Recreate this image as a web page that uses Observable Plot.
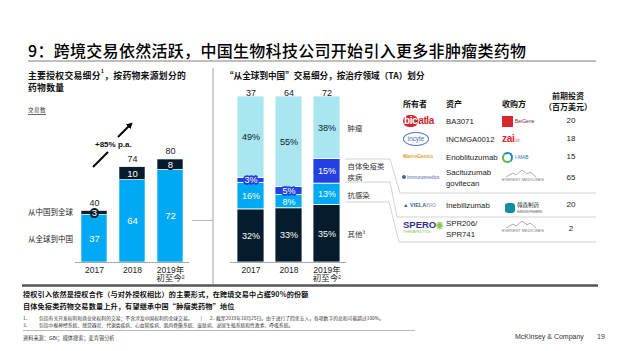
<!DOCTYPE html>
<html lang="zh-CN">
<head>
<meta charset="utf-8">
<script src="https://cdn.jsdelivr.net/npm/d3@7"></script>
<script src="https://cdn.jsdelivr.net/npm/@observablehq/plot@0.6"></script>
<style>
html,body{margin:0;padding:0;background:#fff;}
#page{position:relative;width:624px;height:351px;overflow:hidden;background:#fff;font-family:"Noto Sans CJK SC","Liberation Sans",sans-serif;color:#111;}
.t{position:absolute;white-space:nowrap;}
.lat{font-family:"Liberation Sans",Arial,sans-serif;}
#overlay{position:absolute;left:0;top:0;}
.chart{position:absolute;}
sup{font-size:60%;line-height:0;vertical-align:top;position:relative;top:1px;}
</style>
</head>
<body>
<div id="page">
<svg id="overlay" width="624" height="351">
  <defs>
    <marker id="ah" viewBox="0 0 10 10" refX="2" refY="5" markerWidth="3.2" markerHeight="3.2" orient="auto">
      <path d="M0,0 L10,5 L0,10 z" fill="#000"/>
    </marker>
  </defs>
  <line x1="28" y1="61" x2="596" y2="61" stroke="#7f7f7f" stroke-width="1"/>
  <line x1="213" y1="68" x2="213" y2="285" stroke="#8c8c8c" stroke-width="0.8"/>
  <line x1="192" y1="220.5" x2="213" y2="220.5" stroke="#a6a6a6" stroke-width="0.8"/>
  <path d="M345,159 H390 L400,193 H596" fill="none" stroke="#c8c8c8" stroke-width="0.8"/>
  <path d="M345,182 H390 L397,217 H596" fill="none" stroke="#c8c8c8" stroke-width="0.8"/>
  <path d="M345,202 H389 L399,242 H596" fill="none" stroke="#c8c8c8" stroke-width="0.8"/>
  <line x1="22" y1="285.5" x2="598" y2="285.5" stroke="#555" stroke-width="2.4"/>
  <line x1="23" y1="330.5" x2="415" y2="330.5" stroke="#9a9a9a" stroke-width="0.7"/>
  <line x1="93" y1="167" x2="108" y2="152" stroke="#000" stroke-width="2"/>
  <line x1="118" y1="137" x2="129" y2="126" stroke="#000" stroke-width="2" marker-end="url(#ah)"/>
</svg>

<div class="t" style="left:28px;top:42px;font-size:16px;line-height:17px;letter-spacing:0.3px;font-weight:500;color:#000;">9：跨境交易依然活跃，中国生物科技公司开始引入更多非肿瘤类药物</div>
<div class="t" style="left:28px;top:70px;font-size:8.8px;line-height:11.5px;font-weight:700;letter-spacing:0.3px;">主要授权交易细分<sup>1</sup>，按药物来源划分的<br>药物数量</div>
<div class="t" style="left:28px;top:107px;font-size:5.5px;line-height:6px;letter-spacing:0.5px;color:#333;border-bottom:0.8px solid #666;padding-bottom:1px;">交易数</div>
<div class="t lat" style="left:95px;top:140px;font-size:8px;line-height:10px;font-weight:700;">+85% p.a.</div>
<div class="t" style="left:28px;top:208px;font-size:7.5px;line-height:8px;color:#222;">从中国到全球</div>
<div class="t" style="left:28px;top:234.5px;font-size:7.5px;line-height:8px;color:#222;">从全球到中国</div>
<div class="t" style="left:225px;top:70px;font-size:8.6px;line-height:10px;font-weight:700;">“从全球到中国”交易细分，按治疗领域（TA）划分</div>

<div class="t" style="left:403px;top:98.5px;font-size:8px;line-height:9px;font-weight:700;">所有者</div>
<div class="t" style="left:446px;top:98.5px;font-size:8px;line-height:9px;font-weight:700;">资产</div>
<div class="t" style="left:502px;top:98.5px;font-size:8px;line-height:9px;font-weight:700;">收购方</div>
<div class="t" style="left:540px;top:90px;width:56px;text-align:center;font-size:8px;line-height:11px;font-weight:700;">前期投资<br>（百万美元）</div>

<div class="t" style="left:23px;top:290px;font-size:7.1px;line-height:9px;font-weight:700;letter-spacing:0.2px;">授权引入依然是授权合作（与对外授权相比）的主要形式，在跨境交易中占据90%的份额</div>
<div class="t" style="left:23px;top:302px;font-size:7.1px;line-height:9px;font-weight:700;letter-spacing:0.2px;">自体免疫类药物交易数量上升，有望继承中国“肿瘤类药物”地位</div>
<div class="t" style="left:23px;top:314.5px;font-size:4.8px;line-height:5px;color:#333;">1.<span style="display:inline-block;width:12px"></span>包括有关开发权利和商业化权利的交易；不含涉及中国权利的全球交易。<span style="display:inline-block;width:8px"></span>|<span style="display:inline-block;width:8px"></span>2.&nbsp; 截至2019年10月25日。由于进行了四舍五入，各项数字的总和可能超过100%。</div>
<div class="t" style="left:23px;top:321.5px;font-size:4.8px;line-height:5px;color:#333;">3.<span style="display:inline-block;width:12px"></span>包括中枢神经系统、感觉器官、代谢类疾病、心血管疾病、肌肉骨骼系统、皮肤病、泌尿生殖系统和性激素、呼吸系统。</div>
<div class="t" style="left:23px;top:334.5px;font-size:5.2px;line-height:6px;color:#333;">资料来源：GBI；媒体搜索；麦肯锡分析</div>
<div class="t lat" style="left:515px;top:332.5px;font-size:7px;line-height:8px;color:#333;">McKinsey &amp; Company</div>
<div class="t lat" style="left:597px;top:332.5px;font-size:7px;line-height:8px;color:#333;">19</div>

<div id="leftChart" class="chart" style="left:60px;top:100px;width:140px;height:190px;"></div>
<div id="midChart" class="chart" style="left:215px;top:80px;width:180px;height:210px;"></div>
<div id="table"></div>
</div>

<script>
// ---------- data ----------
const years = ["2017", "2018", "2019"];
const yearTicks = ["2017", "2018", "2019年\n初至今²"];
const sourceNames = ["从全球到中国", "从中国到全球"];
const inbound = [37, 64, 72];     // 从全球到中国
const outbound = [3, 10, 8];      // 从中国到全球
const dealTotals = [40, 74, 80];

const taNames = ["其他³", "抗感染", "自体免疫类\n疾病", "肿瘤"];
const taOther = [32, 33, 35];
const taAntiInfective = [16, 8, 13];
const taAutoimmune = [3, 5, 15];
const taOncology = [49, 55, 38];
const inboundTotals = [37, 64, 72];

const owners = ["bicatla", "incyte", "MacroGenics", "Immunomedics", "VIELABIO", "SPERO"];
const assets = ["BA3071", "INCMGA0012", "Enoblituzumab", "Sacituzumab\ngovitecan", "Inebilizumab", "SPR206/\nSPR741"];
const acquirers = ["BeiGene", "zai lab", "I-MAB", "EVEREST MEDICINES", "翰森制药", "EVEREST MEDICINES"];
const upfront = [20, 18, 15, 65, 20, 2];

// ---------- styling ----------
const LAT = '"Liberation Sans", Arial, "Noto Sans CJK SC", sans-serif';
const CJK = '"Noto Sans CJK SC", "Liberation Sans", sans-serif';
const NAVY = "#051c2c", AZURE = "#00a9f4", ELECTRIC = "#2241e0", CYAN = "#aae6f0";
const baseStyle = {fontFamily: LAT, fontSize: "9px", background: "transparent", overflow: "visible", color: "#222"};

// ---------- left chart ----------
const leftData = years.flatMap((yr, i) => [
  {year: yr, source: sourceNames[0], value: inbound[i]},
  {year: yr, source: sourceNames[1], value: outbound[i]}
]);
const leftTotals = years.map((yr, i) => ({year: yr, total: dealTotals[i]}));

const left = Plot.plot({
  width: 140, height: 190,
  marginLeft: 15, marginRight: 11, marginTop: 59, marginBottom: 28,
  style: baseStyle,
  x: {domain: years, paddingInner: 0.316, paddingOuter: 0.158, axis: null},
  y: {domain: [0, 80], axis: null},
  color: {domain: sourceNames, range: [AZURE, NAVY]},
  marks: [
    Plot.barY(leftData, {x: "year", y: "value", fill: "source", stroke: "#fff", strokeWidth: 0.6}),
    Plot.ruleY([0], {stroke: "#a9a9a9", strokeWidth: 1.2}),
    Plot.text(leftData, Plot.stackY({x: "year", y: "value",
      text: d => d.source === sourceNames[0] ? String(d.value) : "",
      fill: "#fff", fontSize: 9.5})),
    Plot.text(leftData, Plot.stackY({x: "year", y: "value",
      text: d => d.source === sourceNames[1] ? String(d.value) : "",
      fill: "#fff", stroke: NAVY, strokeWidth: 4, paintOrder: "stroke", fontSize: 9.5})),
    Plot.text(leftTotals, {x: "year", y: "total", text: "total", dy: -8, fill: "#222", fontSize: 9}),
    Plot.text(years, {x: d => d, text: (d, i) => yearTicks[i], frameAnchor: "bottom",
      lineAnchor: "top", dy: 4, fontSize: 8.5, lineHeight: 1.0, fill: "#222"})
  ]
});
document.getElementById("leftChart").appendChild(left);

// ---------- middle chart ----------
const taSeries = [taOther, taAntiInfective, taAutoimmune, taOncology];
const taColors = [NAVY, AZURE, ELECTRIC, CYAN];
const midData = years.flatMap((yr, i) => taNames.map((n, k) => ({year: yr, ta: n, value: taSeries[k][i]})));
const midTotals = years.map((yr, i) => ({year: yr, total: inboundTotals[i]}));
const stk = o => Plot.stackY({x: "year", y: "value", offset: "normalize", ...o});

const mid = Plot.plot({
  width: 180, height: 210,
  marginLeft: 15, marginRight: 49, marginTop: 16, marginBottom: 28,
  style: baseStyle,
  x: {domain: years, paddingInner: 0.299, paddingOuter: 0.15, axis: null},
  y: {domain: [0, 1], axis: null},
  color: {domain: taNames, range: taColors},
  marks: [
    Plot.barY(midData, {x: "year", y: "value", fill: "ta", offset: "normalize", stroke: "#fff", strokeWidth: 0.8}),
    Plot.ruleY([0], {stroke: "#a9a9a9", strokeWidth: 1.2}),
    Plot.text(midData, stk({text: d => d.ta === taNames[3] ? d.value + "%" : "", fill: NAVY, fontSize: 9})),
    Plot.text(midData, stk({text: d => d.ta !== taNames[3] && d.value >= 8 ? d.value + "%" : "", fill: "#fff", fontSize: 9})),
    Plot.text(midData, stk({text: d => d.value < 8 ? d.value + "%" : "", fill: "#fff",
      stroke: ELECTRIC, strokeWidth: 3.5, paintOrder: "stroke", fontSize: 9})),
    Plot.text(midData, stk({text: d => d.year === years[2] ? d.ta : "", textAnchor: "start", dx: 20.5,
      fill: "#333", fontSize: 7.4, lineHeight: 1.45, fontFamily: CJK})),
    Plot.text(midTotals, {x: "year", text: "total", frameAnchor: "top", dy: -7, fill: "#222", fontSize: 9}),
    Plot.text(years, {x: d => d, text: (d, i) => yearTicks[i], frameAnchor: "bottom",
      lineAnchor: "top", dy: 4, fontSize: 8.5, lineHeight: 1.0, fill: "#222"})
  ]
});
document.getElementById("midChart").appendChild(mid);

// ---------- table ----------
const rowY = [121, 139, 157, 178, 205, 229];

function ownerLogo(name, y) {
  switch (name) {
    case "bicatla":
      return `<div class="t lat" style="left:403px;top:${y-7}px;font-size:10px;line-height:14px;font-weight:bold;color:#d0282e;letter-spacing:-0.4px"><span style="display:inline-block;background:#d0282e;color:#fff;border-radius:6px;padding:0 1px;line-height:12px">bic</span>atla</div>`;
    case "incyte":
      return `<div class="t lat" style="left:403px;top:${y-7}px;width:24px;height:12px;border:1px solid #4a78c0;border-radius:50%;font-size:6.3px;line-height:12px;text-align:center;color:#3c6bb5">incyte</div>`;
    case "MacroGenics":
      return `<div class="t lat" style="left:403px;top:${y-3}px;font-size:4.8px;line-height:6px;color:#e39b2c;font-weight:bold">MacroGenics</div>`;
    case "Immunomedics":
      return `<div class="t lat" style="left:402px;top:${y-3}px;font-size:4.8px;line-height:6px;color:#4b5fbf"><span style="display:inline-block;width:4px;height:4px;border-radius:50%;background:#4b5fbf;margin-right:1px"></span>Immunomedics</div>`;
    case "VIELABIO":
      return `<div class="t lat" style="left:403px;top:${y-3.5}px;font-size:5.5px;line-height:7px;color:#3f6490;font-weight:bold">▲ VIELA<span style="color:#a9b8c8">BIO</span></div>`;
    case "SPERO":
      return `<div class="t lat" style="left:403px;top:${y-8}px;line-height:8px;color:#2e3192;font-weight:bold;font-size:9.5px">SPERO<span style="font-size:7px;color:#8dc63f">◉</span><div style="font-size:3.6px;line-height:4px;color:#8dc63f;font-weight:normal">THERAPEUTICS</div></div>`;
  }
}
function buyerLogo(name, y) {
  switch (name) {
    case "BeiGene":
      return `<div class="t lat" style="left:502px;top:${y-6}px;font-size:5px;line-height:12px;color:#8a1c1c"><span style="display:inline-block;width:11px;height:11px;background:#d6282e;vertical-align:middle;margin-right:2px"></span>BeiGene</div>`;
    case "zai lab":
      return `<div class="t lat" style="left:502px;top:${y-7}px;font-size:10px;line-height:13px;color:#e0262d;font-weight:bold;letter-spacing:-0.3px">zai<span style="font-size:5px;color:#ee8c8c;font-weight:normal">lab</span></div>`;
    case "I-MAB":
      return `<div class="t lat" style="left:502px;top:${y-5.5}px;font-size:4.8px;line-height:11px;color:#1c6fb0"><span style="display:inline-block;width:7px;height:7px;border:2px solid #1c87c9;border-left-color:#5cb85c;border-bottom-color:#5cb85c;border-radius:50%;vertical-align:middle;margin-right:2px"></span>I-MAB</div>`;
    case "EVEREST MEDICINES":
      return `<div class="t lat" style="left:502px;top:${y-8}px;width:38px;text-align:center;color:#777"><svg width="30" height="7" style="display:block;margin:0 auto"><path d="M0,7 L7,3 L10,5 L16,0 L21,4 L24,2 L30,7" fill="none" stroke="#888" stroke-width="0.7"/></svg><div style="font-size:4px;line-height:6px">EVEREST MEDICINES</div></div>`;
    case "翰森制药":
      return `<div class="t" style="left:505px;top:${y-6}px;line-height:12px;color:#333"><span style="display:inline-block;width:10px;height:10px;border-radius:3px;background:#0f8f9b;vertical-align:middle;margin-right:2px"></span><span style="display:inline-block;vertical-align:middle;font-size:5.5px;line-height:6px">翰森制药<br><span style="font-size:3px;line-height:3px">HANSOH PHARMA</span></span></div>`;
  }
}
let html = "";
owners.forEach((o, i) => {
  const y = rowY[i];
  const lines = assets[i].split("\n");
  html += ownerLogo(o, y);
  html += `<div class="t lat" style="left:446px;top:${y - lines.length * 5.5}px;font-size:7.8px;line-height:11px;color:#222">${lines.join("<br>")}</div>`;
  html += buyerLogo(acquirers[i], y);
  html += `<div class="t lat" style="left:556px;width:30px;text-align:center;top:${y - 5}px;font-size:8px;line-height:10px;color:#222">${upfront[i]}</div>`;
});
document.getElementById("table").innerHTML = html;
</script>
</body>
</html>
